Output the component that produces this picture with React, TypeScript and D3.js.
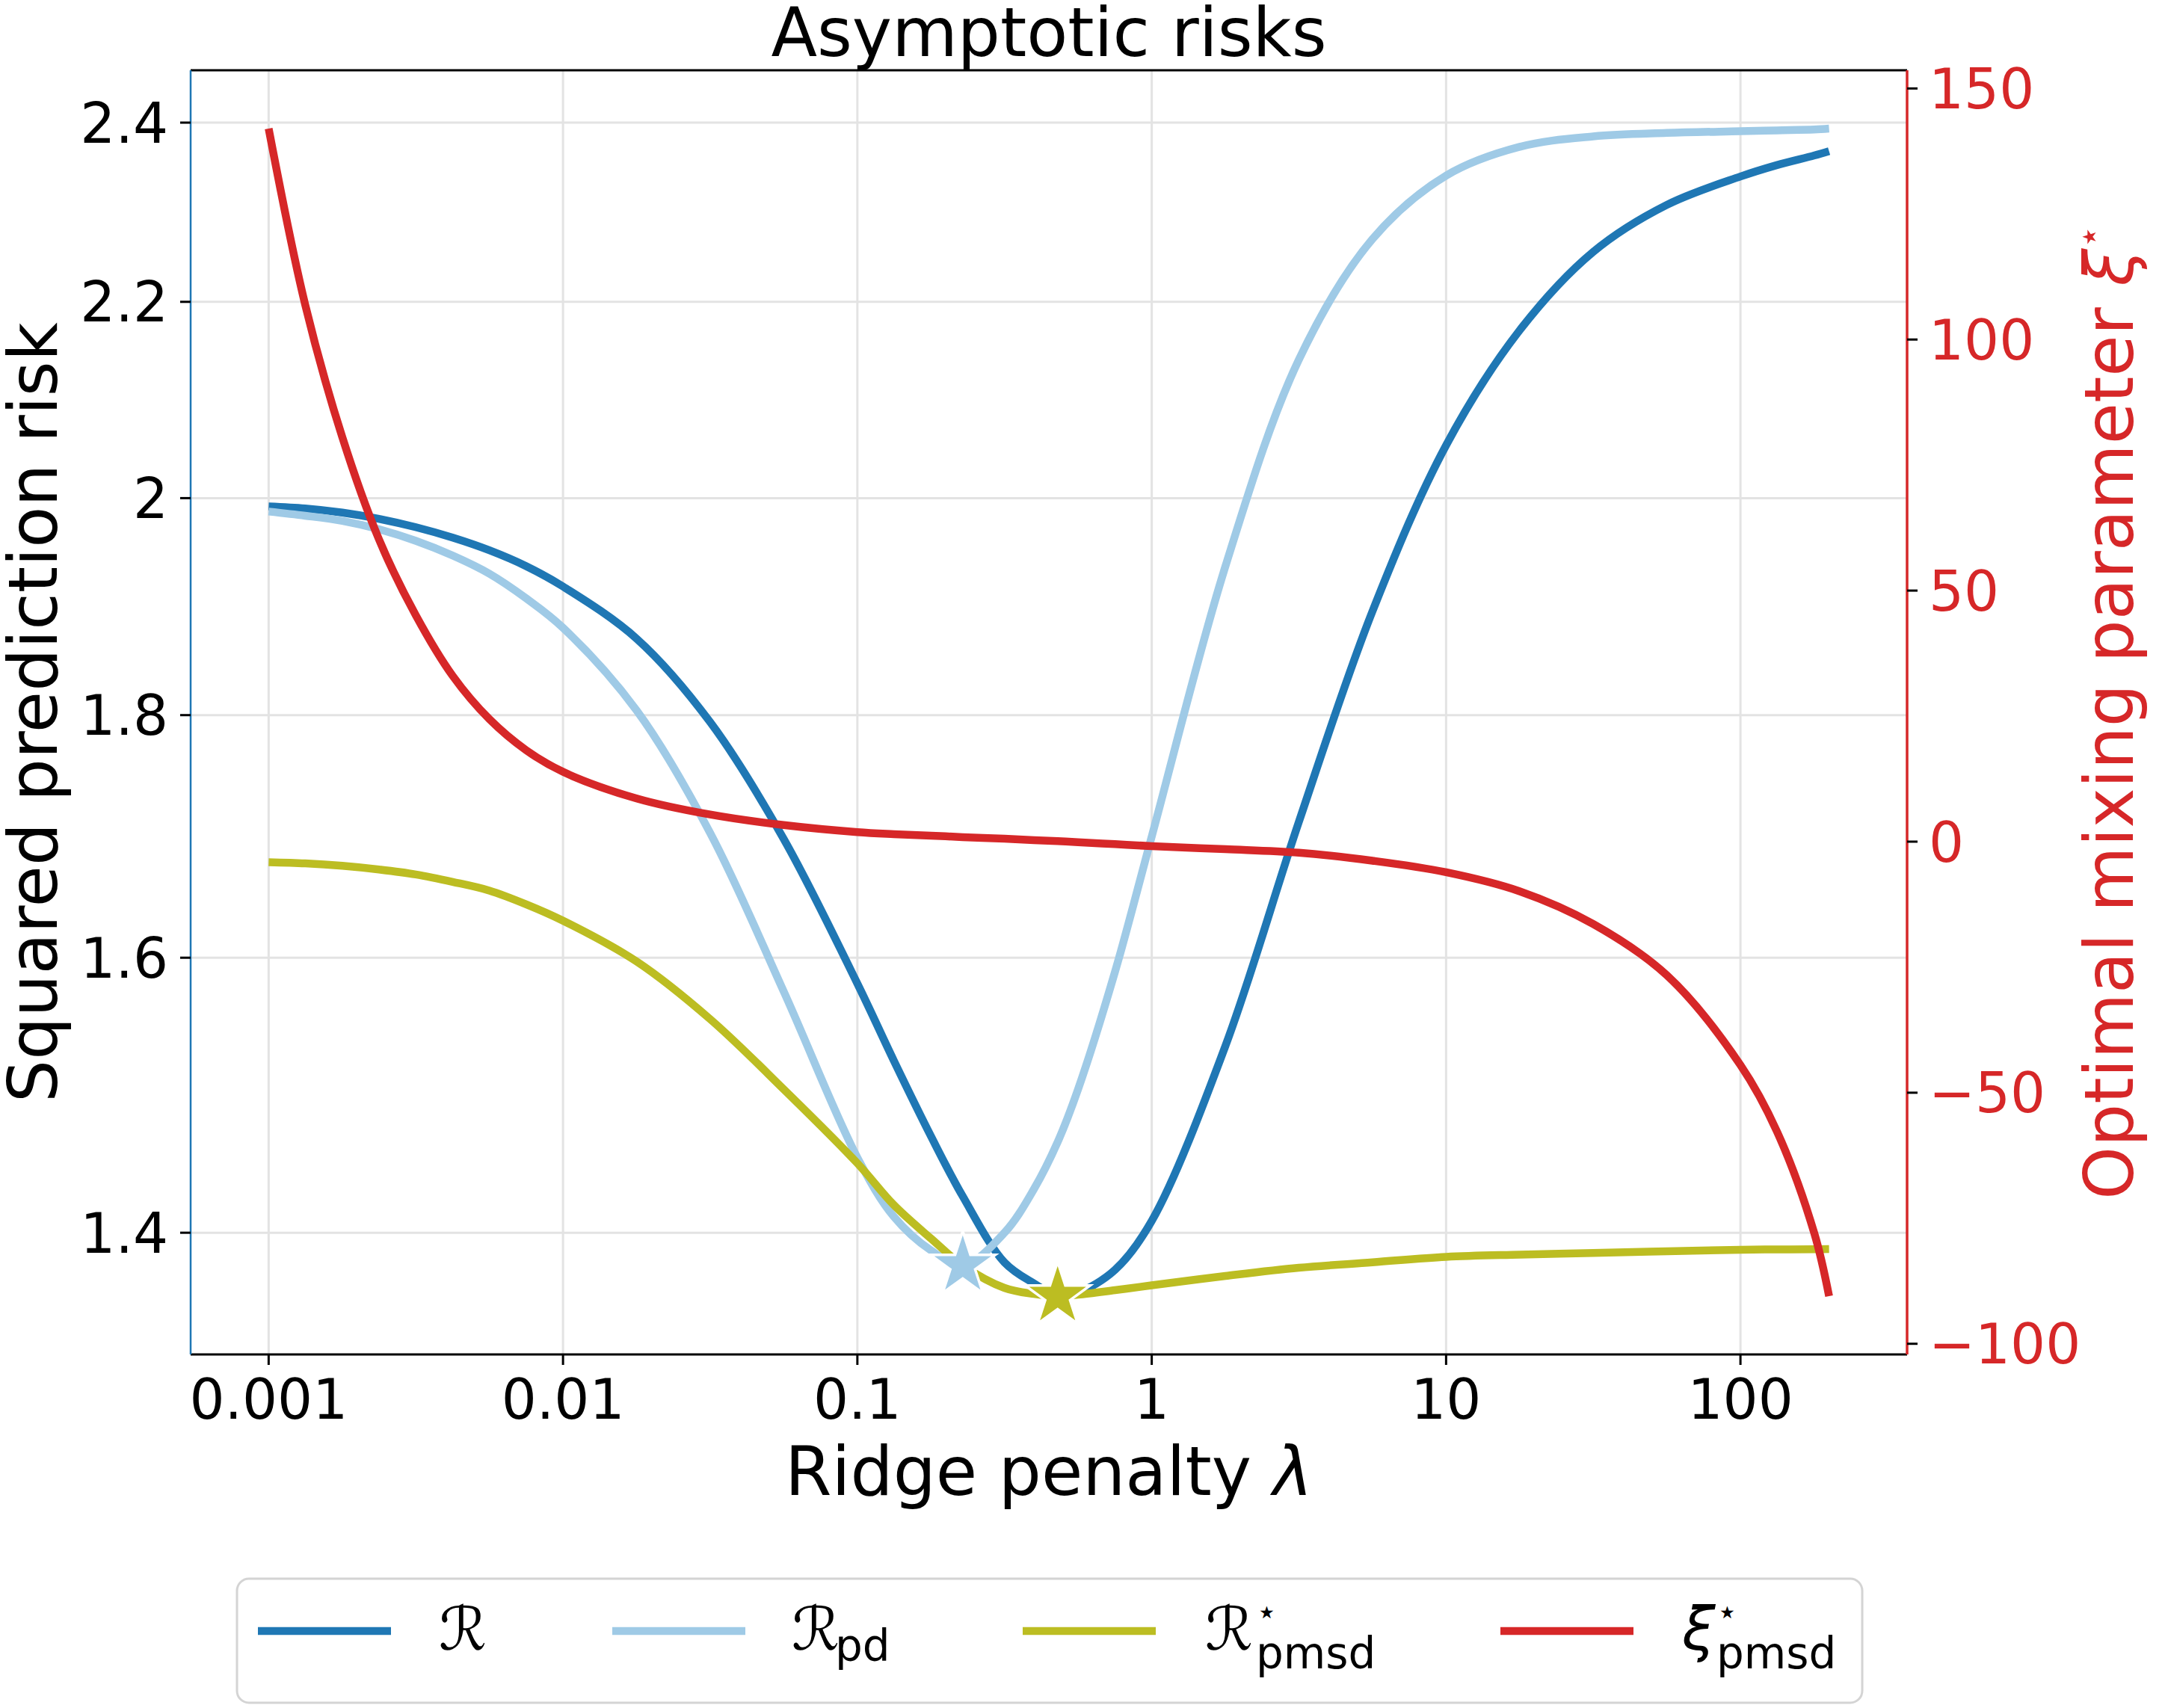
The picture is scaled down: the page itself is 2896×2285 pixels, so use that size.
import React from 'react';
import * as d3 from 'd3';

// lambda grid (ridge penalty) shared by every series
const lambdas = [
  0.001, 0.00133, 0.00178, 0.00237, 0.00316, 0.00422, 0.00562, 0.0075, 0.01, 0.0178,
  0.0316, 0.0562, 0.1, 0.133, 0.178, 0.228, 0.316, 0.398, 0.479, 0.562,
  0.75, 1, 1.78, 3.16, 5.62, 10, 17.8, 31.6, 56.2, 100,
  133, 178, 200,
];

// squared prediction risk R
const riskR = [
  1.992, 1.990, 1.986, 1.980, 1.972, 1.962, 1.950, 1.935, 1.916, 1.868,
  1.794, 1.695, 1.580, 1.522, 1.467, 1.425, 1.380, 1.366, 1.358, 1.360,
  1.375, 1.408, 1.533, 1.709, 1.893, 2.052, 2.170, 2.254, 2.306, 2.338,
  2.351, 2.362, 2.367,
];

// R_pd
const riskPd = [
  1.987, 1.983, 1.978, 1.970, 1.959, 1.945, 1.928, 1.905, 1.878, 1.804,
  1.700, 1.574, 1.452, 1.411, 1.388, 1.378, 1.400, 1.430, 1.463, 1.501,
  1.589, 1.697, 1.935, 2.139, 2.268, 2.339, 2.372, 2.384, 2.388, 2.390,
  2.391, 2.392, 2.393,
];

// R*_pmsd
const riskPmsd = [
  1.676, 1.675, 1.673, 1.670, 1.666, 1.660, 1.653, 1.642, 1.629, 1.597,
  1.553, 1.501, 1.448, 1.419, 1.396, 1.378, 1.363, 1.359, 1.3576, 1.3585,
  1.3615, 1.3647, 1.3709, 1.3764, 1.380, 1.3837, 1.3852, 1.3863, 1.3875, 1.3885,
  1.3887, 1.3888, 1.3889,
];

// optimal mixing parameter xi*_pmsd (right axis)
const xiPmsd = [
  142, 107, 80.5, 60.2, 45.1, 33.0, 24.4, 18.2, 13.9, 8.6,
  5.4, 3.3, 1.9, 1.5, 1.2, 0.9, 0.6, 0.3, 0.1, -0.1,
  -0.5, -0.9, -1.5, -2.2, -3.8, -6.1, -9.9, -16.4, -26.6, -44.5,
  -57.7, -77.9, -90.5,
];

// optima marked with stars
const starLambdas = [0.228, 0.479];
const starRisks = [1.378, 1.3576];
const starColors = ['#9fcae6', '#bcbd22'];

const xTicks = [0.001, 0.01, 0.1, 1, 10, 100];
const xTickLabels = ['0.001', '0.01', '0.1', '1', '10', '100'];
const yTicks = [1.4, 1.6, 1.8, 2, 2.2, 2.4];
const yTickLabels = ['1.4', '1.6', '1.8', '2', '2.2', '2.4'];
const y2Ticks = [-100, -50, 0, 50, 100, 150];

const W = 2896;
const H = 2285;
const plot = { left: 255, right: 2551, top: 94, bottom: 1812 };

const BLUE = '#1f77b4';
const LIGHT = '#9fcae6';
const OLIVE = '#bcbd22';
const RED = '#d62728';
const FONT = 'DejaVu Sans, sans-serif';

// matplotlib style 5% margins (in log space for log axes)
function logPad(vals: number[]) {
  const lo = Math.log10(d3.min(vals)!);
  const hi = Math.log10(d3.max(vals)!);
  const p = (hi - lo) * 0.05;
  return [Math.pow(10, lo - p), Math.pow(10, hi + p)];
}
function linPad(vals: number[]) {
  const lo = d3.min(vals)!;
  const hi = d3.max(vals)!;
  const p = (hi - lo) * 0.05;
  return [lo - p, hi + p];
}

const App = () => {
  const x = d3.scaleLog().domain(logPad(lambdas)).range([plot.left, plot.right]);
  const y = d3
    .scaleLog()
    .domain(logPad([...riskR, ...riskPd, ...riskPmsd]))
    .range([plot.bottom, plot.top]);
  const y2 = d3.scaleLinear().domain(linPad(xiPmsd)).range([plot.bottom, plot.top]);

  const line = d3.line<[number, number]>().curve(d3.curveCatmullRom.alpha(0.5));
  const path = (vals: number[], sc: (v: number) => number) =>
    line(lambdas.map((l, i) => [x(l), sc(vals[i])] as [number, number])) || '';

  const star = d3.symbol(d3.symbolStar, 2350)() || '';

  const legendItems = [
    { color: BLUE, x0: 345, tx: 587, main: 'ℛ', sub: '', subDx: 0, sup: false, italic: true },
    { color: LIGHT, x0: 819, tx: 1059, main: 'ℛ', sub: 'pd', subDx: 58, sup: false, italic: true },
    { color: OLIVE, x0: 1368, tx: 1612, main: 'ℛ', sub: 'pmsd', subDx: 68, sup: true, italic: true },
    { color: RED, x0: 2007, tx: 2250, main: 'ξ', sub: 'pmsd', subDx: 46, sup: true, italic: true },
  ];

  const cy = (plot.top + plot.bottom) / 2;
  const cx = (plot.left + plot.right) / 2;

  return (
    <svg
      width={W}
      height={H}
      style={{ position: 'absolute', left: 0, top: 0, background: '#fff' }}
      fontFamily={FONT}
    >
      <rect x={0} y={0} width={W} height={H} fill="#fff" />

      {/* grid */}
      {xTicks.map((t) => (
        <line key={'gx' + t} x1={x(t)} x2={x(t)} y1={plot.top} y2={plot.bottom} stroke="#e3e3e3" strokeWidth={3} />
      ))}
      {yTicks.map((t) => (
        <line key={'gy' + t} x1={plot.left} x2={plot.right} y1={y(t)} y2={y(t)} stroke="#e3e3e3" strokeWidth={3} />
      ))}

      {/* risk curves */}
      <path d={path(riskR, y)} fill="none" stroke={BLUE} strokeWidth={10.5} />
      <path d={path(riskPd, y)} fill="none" stroke={LIGHT} strokeWidth={10.5} />
      <path d={path(riskPmsd, y)} fill="none" stroke={OLIVE} strokeWidth={10.5} />

      {starLambdas.map((l, i) => (
        <path
          key={'star' + i}
          d={star}
          transform={`translate(${x(l)},${y(starRisks[i])})`}
          fill={starColors[i]}
          stroke="#fff"
          strokeWidth={3.5}
        />
      ))}

      {/* mixing parameter on twin axis */}
      <path d={path(xiPmsd, y2)} fill="none" stroke={RED} strokeWidth={10.5} />

      {/* spines */}
      <line x1={plot.left} x2={plot.right} y1={plot.top} y2={plot.top} stroke="#000" strokeWidth={3} />
      <line x1={plot.left} x2={plot.right} y1={plot.bottom} y2={plot.bottom} stroke="#000" strokeWidth={3} />
      <line x1={plot.left} x2={plot.left} y1={plot.top} y2={plot.bottom} stroke={BLUE} strokeWidth={2.5} />
      <line x1={plot.right} x2={plot.right} y1={plot.top} y2={plot.bottom} stroke={RED} strokeWidth={3.5} />

      {/* x axis */}
      {xTicks.map((t, i) => (
        <g key={'xt' + t}>
          <line x1={x(t)} x2={x(t)} y1={plot.bottom} y2={plot.bottom + 14} stroke="#000" strokeWidth={3} />
          <text x={x(t)} y={1898} fontSize={74} textAnchor="middle" fill="#000">
            {xTickLabels[i]}
          </text>
        </g>
      ))}

      {/* left axis */}
      {yTicks.map((t, i) => (
        <g key={'yt' + t}>
          <line x1={plot.left - 14} x2={plot.left} y1={y(t)} y2={y(t)} stroke="#000" strokeWidth={3} />
          <text x={plot.left - 30} y={y(t)} dy="0.36em" fontSize={74} textAnchor="end" fill="#000">
            {yTickLabels[i]}
          </text>
        </g>
      ))}

      {/* right axis */}
      {y2Ticks.map((t) => (
        <g key={'y2t' + t}>
          <line x1={plot.right} x2={plot.right + 14} y1={y2(t)} y2={y2(t)} stroke="#000" strokeWidth={3} />
          <text x={plot.right + 29} y={y2(t)} dy="0.36em" fontSize={74} textAnchor="start" fill={RED}>
            {t < 0 ? '\u2212' + Math.abs(t) : String(t)}
          </text>
        </g>
      ))}

      {/* titles */}
      <text x={cx} y={75} fontSize={90} textAnchor="middle" fill="#000">
        Asymptotic risks
      </text>
      <text x={cx} y={2000} fontSize={90} textAnchor="middle" fill="#000">
        Ridge penalty <tspan fontStyle="italic">λ</tspan>
      </text>
      <text transform={`translate(76,${cy}) rotate(-90)`} fontSize={90} textAnchor="middle" fill="#000">
        Squared prediction risk
      </text>
      <text transform={`translate(2853,${cy}) rotate(-90)`} fontSize={90} textAnchor="middle" fill={RED}>
        Optimal mixing parameter <tspan fontStyle="italic">ξ</tspan>
        <tspan fontSize={50} dy={-42}>⋆</tspan>
      </text>

      {/* legend */}
      <rect x={317} y={2112} width={2174} height={166} rx={16} ry={16} fill="#fff" stroke="#d4d4d4" strokeWidth={3} />
      {legendItems.map((d, i) => (
        <g key={'lg' + i}>
          <line x1={d.x0} x2={d.x0 + 178} y1={2182} y2={2182} stroke={d.color} strokeWidth={10.5} />
          <text x={d.tx} y={2207} fontSize={80} fill="#000" fontStyle={d.italic ? 'italic' : 'normal'}>
            {d.main}
          </text>
          {d.sup && (
            <text x={d.tx + d.subDx} y={2172} fontSize={46} fill="#000">
              ⋆
            </text>
          )}
          {d.sub && (
            <text x={d.tx + d.subDx} y={d.sup ? 2232 : 2222} fontSize={58} fill="#000">
              {d.sub}
            </text>
          )}
        </g>
      ))}
    </svg>
  );
};

export default App;
